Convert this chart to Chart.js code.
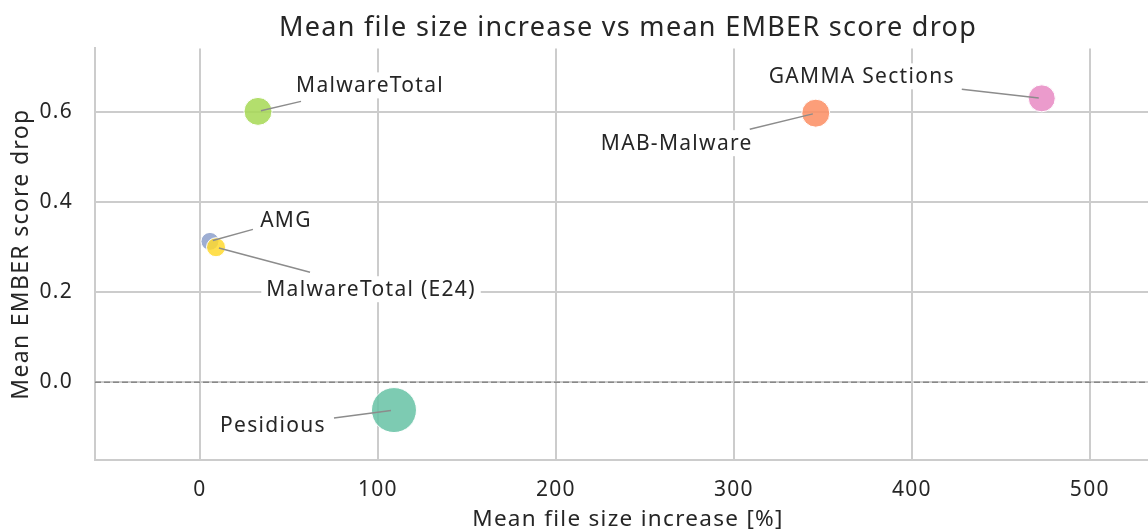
<!DOCTYPE html>
<html>
<head>
<meta charset="utf-8">
<script src="https://cdn.jsdelivr.net/npm/chart.js@4.4.1/dist/chart.umd.min.js"></script>
<style>
  html, body { margin: 0; padding: 0; background: #fff; overflow: hidden; }
  #wrap { position: relative; width: 1161px; height: 536px; }
</style>
</head>
<body>
<div id="wrap"><canvas id="chart"></canvas></div>
<script>
// data
const tools = ['MalwareTotal', 'AMG', 'MalwareTotal (E24)', 'Pesidious', 'MAB-Malware', 'GAMMA Sections'];
const sizeIncrease = [32.6, 5.6, 9.0, 109, 346, 473];       // mean file size increase [%]
const scoreDrop = [0.602, 0.313, 0.300, -0.062, 0.598, 0.631]; // mean EMBER score drop
const bubbleSize = [14, 9, 9.5, 22.5, 14, 13.5];
const xTicks = [0, 100, 200, 300, 400, 500];
const yTicks = [0.0, 0.2, 0.4, 0.6];

const colors = [
  'rgba(166, 216, 84, 0.85)',  // lime
  'rgba(141, 160, 203, 0.85)', // blue
  'rgba(255, 217, 47, 0.85)',  // yellow
  'rgba(102, 194, 165, 0.85)', // teal
  'rgba(252, 141, 98, 0.85)',  // orange
  'rgba(231, 138, 195, 0.85)'  // pink
];

// label placement relative to the point, in pixels: text centre and end of leader line
const labelOffsets = [
  { tx: 112, ty: -26, lx: 43, ly: -10 },
  { tx: 76, ty: -21, lx: 43, ly: -12 },
  { tx: 155, ty: 42, lx: 94, ly: 25 },
  { tx: -121, ty: 15, lx: -60, ly: 8 },
  { tx: -139, ty: 30, lx: -66, ly: 16 },
  { tx: -180, ty: -22, lx: -80, ly: -9 }
];

const FONT = '"Noto Sans", "DejaVu Sans", sans-serif';
const TEXT = '#262626';
const GRID = '#cccccc';

// the reference font is set a little looser than Noto Sans
const spacing = {
  id: 'spacing',
  beforeUpdate(chart) { chart.ctx.letterSpacing = '1.3px'; },
  beforeDraw(chart) { chart.ctx.letterSpacing = '1.3px'; }
};

const annotations = {
  id: 'annotations',
  beforeDatasetsDraw(chart) {
    // dashed zero line
    const { ctx, chartArea, scales } = chart;
    const y0 = scales.y.getPixelForValue(0);
    ctx.save();
    ctx.strokeStyle = '#888888';
    ctx.lineWidth = 1.6;
    ctx.setLineDash([6, 3]);
    ctx.beginPath();
    ctx.moveTo(chartArea.left, y0);
    ctx.lineTo(chartArea.right, y0);
    ctx.stroke();
    ctx.restore();
  },
  afterDatasetsDraw(chart) {
    const { ctx, scales } = chart;
    ctx.save();
    ctx.font = '21px ' + FONT;
    ctx.textAlign = 'center';
    ctx.textBaseline = 'middle';
    tools.forEach((name, i) => {
      const px = scales.x.getPixelForValue(sizeIncrease[i]);
      const py = scales.y.getPixelForValue(scoreDrop[i]);
      const o = labelOffsets[i];
      const len = Math.hypot(o.lx, o.ly);
      ctx.strokeStyle = '#8c8c8c';
      ctx.lineWidth = 1.5;
      ctx.beginPath();
      ctx.moveTo(px + o.lx / len * 3, py + o.ly / len * 3);
      ctx.lineTo(px + o.lx, py + o.ly);
      ctx.stroke();
      const w = ctx.measureText(name).width;
      ctx.fillStyle = '#fff';
      ctx.fillRect(px + o.tx - w / 2 - 5, py + o.ty - 13, w + 10, 26);
      ctx.fillStyle = TEXT;
      ctx.fillText(name, px + o.tx, py + o.ty + 1);
    });
    ctx.restore();
  }
};

new Chart(document.getElementById('chart'), {
  type: 'bubble',
  data: {
    labels: tools,
    datasets: [{
      data: tools.map((t, i) => ({ x: sizeIncrease[i], y: scoreDrop[i], r: bubbleSize[i] })),
      backgroundColor: colors,
      borderColor: '#ffffff',
      borderWidth: 1
    }]
  },
  options: {
    responsive: true,
    maintainAspectRatio: false,
    animation: false,
    events: [],
    layout: { padding: 0, autoPadding: false },
    plugins: {
      legend: { display: false },
      tooltip: { enabled: false },
      title: {
        display: true,
        fullSize: false,
        text: 'Mean file size increase vs mean EMBER score drop',
        color: TEXT,
        font: { family: FONT, size: 27, weight: 'normal' },
        padding: { top: 12, bottom: 4 }
      }
    },
    scales: {
      x: {
        type: 'linear',
        min: -59,
        max: 540,
        afterBuildTicks: s => { s.ticks = xTicks.map(v => ({ value: v })); },
        afterFit: s => { s.height = 76; s.paddingLeft = 0; s.paddingRight = 0; },
        grid: { color: GRID, lineWidth: 2, drawTicks: false },
        border: { color: GRID, width: 2 },
        ticks: { color: TEXT, padding: 17, font: { family: FONT, size: 21 } },
        title: {
          display: true,
          text: 'Mean file size increase [%]',
          color: TEXT,
          font: { family: FONT, size: 22.5 },
          padding: { top: 5, bottom: 3 }
        }
      },
      y: {
        type: 'linear',
        min: -0.173,
        max: 0.742,
        afterBuildTicks: s => { s.ticks = yTicks.map(v => ({ value: v })); },
        afterFit: s => { s.width = 95; s.paddingTop = 0; s.paddingBottom = 0; },
        grid: { color: GRID, lineWidth: 2, drawTicks: false },
        border: { color: GRID, width: 2 },
        ticks: {
          color: TEXT, padding: 22, font: { family: FONT, size: 21 },
          callback: v => v.toFixed(1)
        },
        title: {
          display: true,
          text: 'Mean EMBER score drop',
          color: TEXT,
          font: { family: FONT, size: 23 },
          padding: { top: 8, bottom: 8 }
        }
      }
    }
  },
  plugins: [spacing, annotations]
});
</script>
</body>
</html>
